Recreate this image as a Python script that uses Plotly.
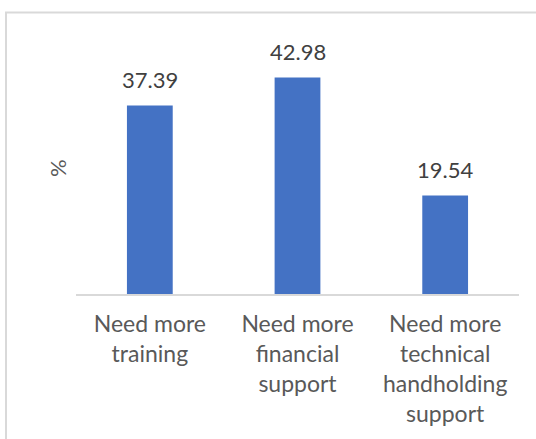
import plotly.graph_objects as go

# Share of respondents by type of support needed
categories = ["Need more<br>training", "Need more<br>financial<br>support",
              "Need more<br>technical<br>handholding<br>support"]
values = [37.39, 42.98, 19.54]
value_labels = ["37.39", "42.98", "19.54"]

W, H = 536, 439
L, R, T, B = 76, 17, 41.5, 145
plot_w = W - L - R
plot_h = H - T - B

FONT = "Lato, Carlito, Liberation Sans, sans-serif"

fig = go.Figure(go.Bar(
    x=categories,
    y=values,
    marker=dict(color="#4472C4", line=dict(width=0)),
    width=0.31,
    hoverinfo="skip",
))

# value labels above each bar
for c, v, t in zip(categories, values, value_labels):
    fig.add_annotation(x=c, y=v, text=t, showarrow=False, xref="x", yref="y",
                       yanchor="middle", yshift=26,
                       font=dict(family=FONT, size=22, color="#404040"))

# y-axis title
fig.add_annotation(x=(57 - L) / plot_w, y=0.5, xref="paper", yref="paper",
                   text="%", textangle=-90, showarrow=False,
                   xanchor="center", yanchor="middle",
                   font=dict(family=FONT, size=22, color="#595959"))

# chart-area border (top and left edges)
fig.add_shape(type="rect", xref="paper", yref="paper",
              x0=(6 - L) / plot_w, x1=(W + 20 - L) / plot_w,
              y0=(T + plot_h - (H + 20)) / plot_h, y1=(T + plot_h - 12) / plot_h,
              line=dict(color="#D9D9D9", width=2), fillcolor="rgba(0,0,0,0)",
              layer="below")

fig.update_layout(
    width=W, height=H,
    margin=dict(l=L, r=R, t=T, b=B, pad=0),
    paper_bgcolor="white", plot_bgcolor="white",
    showlegend=False,
    font=dict(family=FONT, size=22, color="#595959"),
    xaxis=dict(showline=True, linecolor="#D9D9D9", linewidth=1.5,
               ticks="", showgrid=False, zeroline=False,
               tickfont=dict(family=FONT, size=23, color="#595959"),
               ticklabelstandoff=9),
    yaxis=dict(range=[0, 50], visible=False, showgrid=False, zeroline=False),
)

fig.write_html("out.html")
